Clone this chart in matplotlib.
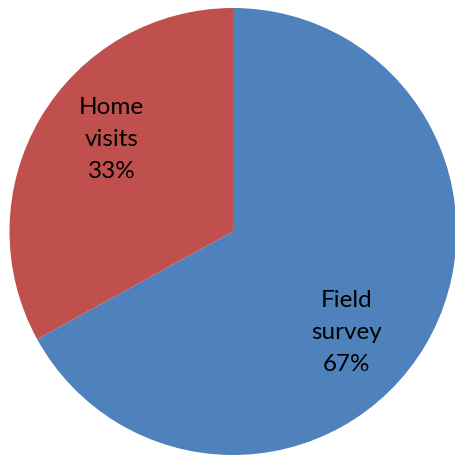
import matplotlib
matplotlib.use("Agg")
import matplotlib.pyplot as plt
import numpy as np

categories = ["Field\nsurvey", "Home\nvisits"]
values = [67, 33]
colors = ["#4F81BD", "#C0504D"]
label_angles = [-41.7, 142.9]

W, H = 455, 458
fig = plt.figure(figsize=(W / 100, H / 100), dpi=100)
cx, cy, r = 233, 231.5, 223.5
ax = fig.add_axes([(cx - r) / W, (H - cy - r) / H, 2 * r / W, 2 * r / H])
ax.pie(values, colors=colors, startangle=90, counterclock=False, radius=1,
       wedgeprops=dict(linewidth=0))
ax.set_xlim(-1, 1)
ax.set_ylim(-1, 1)
ax.set_aspect("equal")
ax.axis("off")

total = sum(values)
for cat, v, ang in zip(categories, values, label_angles):
    t = np.deg2rad(ang)
    ax.text(0.68 * np.cos(t), 0.68 * np.sin(t), f"{cat}\n{round(100 * v / total)}%",
            ha="center", va="center", fontsize=17.5, linespacing=1.65,
            family=["Lato", "DejaVu Sans"], color="black")

fig.savefig("out.png", dpi=100)
